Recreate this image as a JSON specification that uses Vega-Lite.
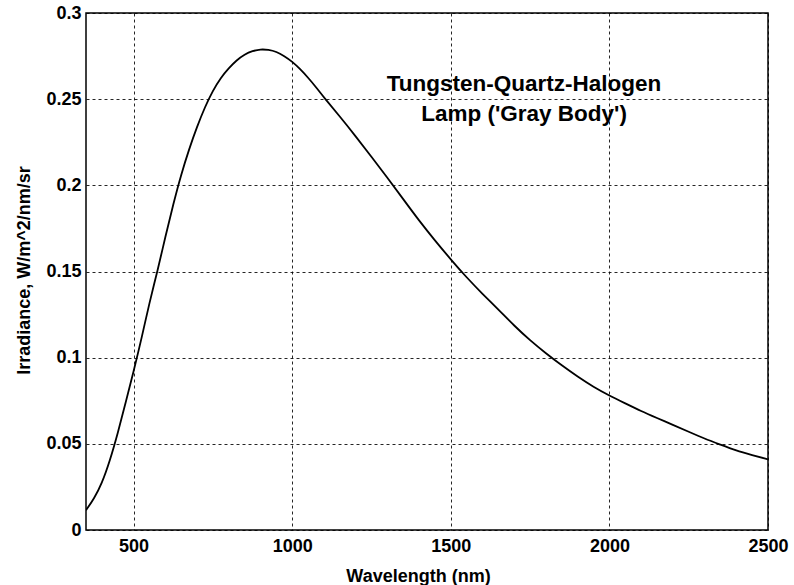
{
  "$schema": "https://vega.github.io/schema/vega-lite/v6.json",
  "autosize": {"type": "none"},
  "width": 682,
  "height": 517,
  "padding": {"left": 86, "top": 13, "right": 26, "bottom": 55},
  "background": "white",
  "config": {
    "view": {"stroke": "#000", "strokeWidth": 1.5},
    "font": "Liberation Sans",
    "axis": {
      "labelFont": "Liberation Sans",
      "titleFont": "Liberation Sans",
      "labelFontWeight": "bold",
      "titleFontWeight": "bold",
      "labelFontSize": 18,
      "titleFontSize": 18,
      "labelColor": "#000",
      "titleColor": "#000",
      "domain": false
    }
  },
  "datasets": {
    "lamp": [
      {"wavelength": 350, "irradiance": 0.0115},
      {"wavelength": 375, "irradiance": 0.018},
      {"wavelength": 400, "irradiance": 0.027},
      {"wavelength": 425, "irradiance": 0.040},
      {"wavelength": 450, "irradiance": 0.056},
      {"wavelength": 475, "irradiance": 0.074},
      {"wavelength": 500, "irradiance": 0.092},
      {"wavelength": 525, "irradiance": 0.111},
      {"wavelength": 550, "irradiance": 0.132},
      {"wavelength": 575, "irradiance": 0.150},
      {"wavelength": 600, "irradiance": 0.170},
      {"wavelength": 625, "irradiance": 0.189},
      {"wavelength": 650, "irradiance": 0.2063},
      {"wavelength": 675, "irradiance": 0.221},
      {"wavelength": 700, "irradiance": 0.234},
      {"wavelength": 725, "irradiance": 0.2455},
      {"wavelength": 750, "irradiance": 0.255},
      {"wavelength": 775, "irradiance": 0.2625},
      {"wavelength": 800, "irradiance": 0.268},
      {"wavelength": 825, "irradiance": 0.2727},
      {"wavelength": 850, "irradiance": 0.276},
      {"wavelength": 875, "irradiance": 0.278},
      {"wavelength": 900, "irradiance": 0.279},
      {"wavelength": 925, "irradiance": 0.2787},
      {"wavelength": 950, "irradiance": 0.2776},
      {"wavelength": 975, "irradiance": 0.275},
      {"wavelength": 1000, "irradiance": 0.2718},
      {"wavelength": 1025, "irradiance": 0.2675},
      {"wavelength": 1050, "irradiance": 0.2625},
      {"wavelength": 1075, "irradiance": 0.257},
      {"wavelength": 1100, "irradiance": 0.251},
      {"wavelength": 1150, "irradiance": 0.240},
      {"wavelength": 1200, "irradiance": 0.2285},
      {"wavelength": 1250, "irradiance": 0.2165},
      {"wavelength": 1300, "irradiance": 0.2045},
      {"wavelength": 1350, "irradiance": 0.192},
      {"wavelength": 1400, "irradiance": 0.1795},
      {"wavelength": 1450, "irradiance": 0.168},
      {"wavelength": 1500, "irradiance": 0.157},
      {"wavelength": 1550, "irradiance": 0.1465},
      {"wavelength": 1600, "irradiance": 0.137},
      {"wavelength": 1650, "irradiance": 0.128},
      {"wavelength": 1700, "irradiance": 0.1185},
      {"wavelength": 1750, "irradiance": 0.110},
      {"wavelength": 1800, "irradiance": 0.1025},
      {"wavelength": 1850, "irradiance": 0.0955},
      {"wavelength": 1900, "irradiance": 0.089},
      {"wavelength": 1950, "irradiance": 0.083},
      {"wavelength": 2000, "irradiance": 0.078},
      {"wavelength": 2050, "irradiance": 0.0735},
      {"wavelength": 2100, "irradiance": 0.069},
      {"wavelength": 2150, "irradiance": 0.065},
      {"wavelength": 2200, "irradiance": 0.061},
      {"wavelength": 2250, "irradiance": 0.057},
      {"wavelength": 2300, "irradiance": 0.053},
      {"wavelength": 2350, "irradiance": 0.0495},
      {"wavelength": 2400, "irradiance": 0.046},
      {"wavelength": 2450, "irradiance": 0.0435},
      {"wavelength": 2500, "irradiance": 0.041}
    ]
  },
  "layer": [
    {
      "data": {"name": "lamp"},
      "mark": {"type": "line", "color": "#000", "strokeWidth": 1.8, "interpolate": "basis", "clip": true},
      "encoding": {
        "x": {
          "field": "wavelength", "type": "quantitative",
          "scale": {"domain": [350, 2500], "nice": false, "zero": false},
          "axis": {
            "orient": "bottom",
            "values": [500, 1000, 1500, 2000, 2500],
            "format": "d",
            "ticks": false, "tickSize": 0,
            "labelPadding": 7,
            "labelFlush": false,
            "grid": true, "gridColor": "#000", "gridDash": [3, 3], "gridWidth": 1, "gridOpacity": 0.85,
            "title": "Wavelength (nm)",
            "titleX": 332, "titleY": 51.5, "titleBaseline": "alphabetic"
          }
        },
        "y": {
          "field": "irradiance", "type": "quantitative",
          "scale": {"domain": [0, 0.3], "nice": false},
          "axis": {
            "orient": "left",
            "values": [0, 0.05, 0.1, 0.15, 0.2, 0.25, 0.3],
            "format": ".2~f",
            "ticks": false, "tickSize": 0,
            "labelPadding": 5,
            "labelFlush": false,
            "grid": true, "gridColor": "#000", "gridDash": [3, 3], "gridWidth": 1, "gridOpacity": 0.85,
            "title": "Irradiance,  W/m^2/nm/sr",
            "titleX": -56.5, "titleY": 257, "titleAngle": -90, "titleBaseline": "alphabetic"
          }
        }
      }
    },
    {
      "data": {"values": [{"label": "Tungsten-Quartz-Halogen Lamp ('Gray Body')"}]},
      "mark": {
        "type": "text",
        "text": ["Tungsten-Quartz-Halogen", "Lamp ('Gray Body')"],
        "font": "Liberation Sans",
        "fontWeight": "bold",
        "fontSize": 22.5,
        "lineHeight": 29.5,
        "align": "center",
        "baseline": "alphabetic",
        "color": "#000"
      },
      "encoding": {
        "x": {"datum": 1731, "type": "quantitative"},
        "y": {"datum": 0.2547, "type": "quantitative"}
      }
    }
  ]
}
